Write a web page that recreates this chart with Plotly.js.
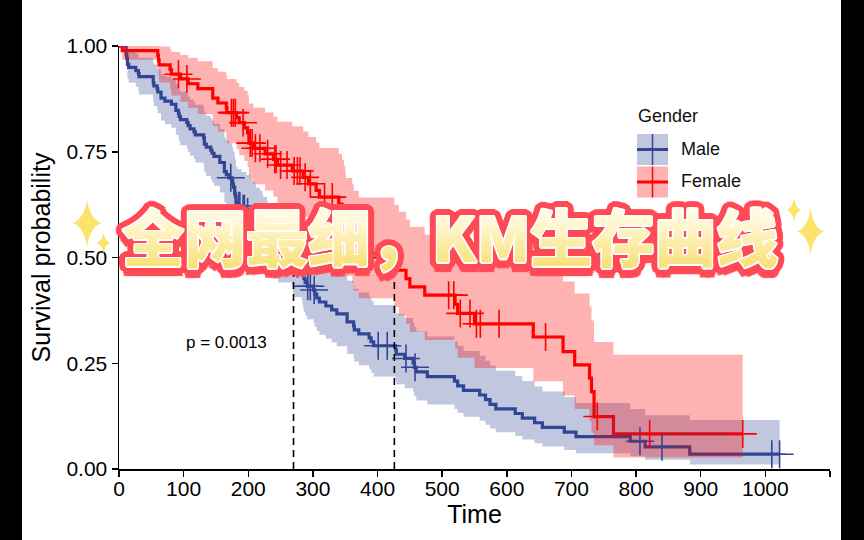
<!DOCTYPE html>
<html>
<head>
<meta charset="utf-8">
<script src="https://cdn.plot.ly/plotly-3.0.1.min.js"></script>
<style>
  html, body { margin: 0; padding: 0; background: #000; width: 864px; height: 540px; overflow: hidden; }
  #chart { position: absolute; left: 22px; top: 0; width: 819px; height: 540px; background: #fff; }
</style>
</head>
<body>
<div id="chart"></div>
<script>
// ---------------- DATA (Kaplan-Meier estimates) ----------------
const groups = ["Male", "Female"];
const legendTitle = "Gender";
const pValueText = "p = 0.0013";
const bannerText = "全网最细，KM生存曲线";

const maleTime = [0, 11, 12, 13, 15, 26, 30, 31, 53, 54, 59, 60, 65, 71, 81, 88, 92, 93, 95, 105, 107, 110, 116, 118, 131, 132, 135, 142, 144, 147, 156, 163, 166, 170, 175, 176, 177, 179, 180, 181, 183, 189, 197, 202, 207, 210, 212, 218, 222, 223, 229, 230, 239, 246, 267, 268, 269, 270, 283, 284, 285, 286, 288, 291, 301, 303, 306, 310, 320, 329, 337, 353, 363, 364, 371, 387, 390, 394, 428, 429, 442, 455, 457, 460, 477, 519, 524, 533, 558, 567, 574, 583, 613, 624, 643, 655, 689, 707, 791, 814, 883, 1022];
const maleSurv = [1, 0.9783, 0.9710, 0.9565, 0.9493, 0.9420, 0.9348, 0.9275, 0.9130, 0.9058, 0.8986, 0.8913, 0.8768, 0.8696, 0.8623, 0.8478, 0.8406, 0.8333, 0.8261, 0.8188, 0.8116, 0.8043, 0.7971, 0.7899, 0.7826, 0.7681, 0.7609, 0.7536, 0.7464, 0.7391, 0.7246, 0.7029, 0.6957, 0.6884, 0.6811, 0.6738, 0.6664, 0.6518, 0.6445, 0.6298, 0.6225, 0.6150, 0.6073, 0.5995, 0.5917, 0.5839, 0.5762, 0.5684, 0.5605, 0.5525, 0.5442, 0.5360, 0.5276, 0.5192, 0.5107, 0.5022, 0.4937, 0.4850, 0.4762, 0.4674, 0.4586, 0.4498, 0.4410, 0.4322, 0.4230, 0.4136, 0.4042, 0.3948, 0.3854, 0.3760, 0.3666, 0.3478, 0.3384, 0.3290, 0.3196, 0.3102, 0.3008, 0.2914, 0.2814, 0.2713, 0.2613, 0.2508, 0.2404, 0.2295, 0.2185, 0.2076, 0.1967, 0.1858, 0.1749, 0.1640, 0.1530, 0.1421, 0.1312, 0.1202, 0.1093, 0.0984, 0.0874, 0.0765, 0.0656, 0.0525, 0.0350, 0.0350];
const maleLower = [1, 0.9542, 0.9434, 0.9231, 0.9134, 0.9038, 0.8945, 0.8853, 0.8672, 0.8583, 0.8496, 0.8409, 0.8237, 0.8152, 0.8067, 0.7900, 0.7817, 0.7734, 0.7652, 0.7570, 0.7489, 0.7408, 0.7328, 0.7247, 0.7167, 0.7008, 0.6929, 0.6851, 0.6772, 0.6694, 0.6538, 0.6306, 0.6230, 0.6153, 0.6076, 0.5999, 0.5922, 0.5769, 0.5693, 0.5541, 0.5466, 0.5388, 0.5309, 0.5228, 0.5148, 0.5068, 0.4988, 0.4909, 0.4829, 0.4747, 0.4663, 0.4579, 0.4494, 0.4409, 0.4323, 0.4238, 0.4152, 0.4065, 0.3976, 0.3888, 0.3800, 0.3713, 0.3626, 0.3539, 0.3448, 0.3355, 0.3263, 0.3171, 0.3080, 0.2989, 0.2899, 0.2719, 0.2630, 0.2541, 0.2453, 0.2364, 0.2276, 0.2189, 0.2095, 0.2003, 0.1911, 0.1816, 0.1720, 0.1622, 0.1524, 0.1427, 0.1331, 0.1237, 0.1142, 0.1049, 0.0959, 0.0870, 0.0781, 0.0695, 0.0611, 0.0529, 0.0450, 0.0375, 0.0302, 0.0216, 0.0106, 0.0106];
const maleUpper = [1, 1.000, 0.999, 0.991, 0.987, 0.982, 0.977, 0.972, 0.961, 0.956, 0.950, 0.945, 0.933, 0.928, 0.922, 0.910, 0.904, 0.898, 0.892, 0.886, 0.880, 0.873, 0.867, 0.861, 0.855, 0.842, 0.835, 0.829, 0.823, 0.816, 0.803, 0.783, 0.777, 0.770, 0.763, 0.757, 0.750, 0.736, 0.730, 0.716, 0.709, 0.702, 0.695, 0.687, 0.680, 0.673, 0.665, 0.658, 0.651, 0.643, 0.635, 0.627, 0.619, 0.611, 0.603, 0.595, 0.587, 0.579, 0.570, 0.562, 0.553, 0.545, 0.536, 0.528, 0.519, 0.510, 0.501, 0.491, 0.482, 0.473, 0.464, 0.445, 0.436, 0.426, 0.417, 0.407, 0.398, 0.388, 0.378, 0.367, 0.357, 0.346, 0.336, 0.325, 0.313, 0.302, 0.291, 0.279, 0.268, 0.256, 0.244, 0.232, 0.220, 0.208, 0.195, 0.183, 0.170, 0.156, 0.142, 0.127, 0.116, 0.116];
const maleCensor = [173, 185, 187, 192, 194, 199, 221, 222, 225, 228, 235, 260, 269, 276, 292, 296, 302, 401, 415, 444, 458, 806, 840, 1010, 1022];

const femaleTime = [0, 5, 60, 61, 62, 79, 81, 95, 107, 122, 145, 153, 166, 167, 182, 186, 194, 199, 201, 208, 226, 239, 245, 268, 285, 293, 305, 310, 340, 345, 348, 350, 351, 361, 363, 371, 426, 433, 444, 450, 473, 520, 524, 550, 641, 687, 705, 728, 731, 735, 765, 965];
const femaleSurv = [1, 0.9889, 0.9778, 0.9667, 0.9556, 0.9444, 0.9333, 0.9221, 0.9107, 0.8993, 0.8766, 0.8652, 0.8538, 0.8424, 0.8305, 0.8187, 0.8066, 0.7946, 0.7705, 0.7581, 0.7452, 0.7322, 0.7186, 0.7045, 0.6895, 0.6742, 0.6585, 0.6428, 0.6264, 0.6099, 0.5934, 0.5769, 0.5604, 0.5434, 0.5265, 0.5089, 0.4893, 0.4698, 0.4502, 0.4306, 0.4110, 0.3894, 0.3678, 0.3433, 0.3121, 0.2774, 0.2460, 0.2150, 0.1830, 0.1240, 0.0830, 0.0830];
const femaleLower = [1, 0.9675, 0.9478, 0.9303, 0.9139, 0.8983, 0.8832, 0.8683, 0.8535, 0.8390, 0.8107, 0.7970, 0.7834, 0.7699, 0.7559, 0.7420, 0.7280, 0.7142, 0.6869, 0.6729, 0.6584, 0.6438, 0.6287, 0.6129, 0.5962, 0.5791, 0.5618, 0.5447, 0.5267, 0.5089, 0.4913, 0.4739, 0.4566, 0.4390, 0.4215, 0.4035, 0.3832, 0.3632, 0.3435, 0.3241, 0.3050, 0.2837, 0.2628, 0.2390, 0.2076, 0.1737, 0.1419, 0.1126, 0.0856, 0.0560, 0.0270, 0.0270];
const femaleUpper = [1, 1.000, 1.000, 1.000, 0.999, 0.993, 0.986, 0.979, 0.972, 0.964, 0.948, 0.939, 0.931, 0.922, 0.913, 0.903, 0.894, 0.884, 0.864, 0.854, 0.843, 0.833, 0.821, 0.810, 0.798, 0.785, 0.772, 0.759, 0.745, 0.731, 0.717, 0.702, 0.688, 0.673, 0.658, 0.642, 0.625, 0.608, 0.590, 0.572, 0.554, 0.534, 0.515, 0.493, 0.469, 0.443, 0.415, 0.384, 0.351, 0.300, 0.270, 0.270];
const femaleCensor = [92, 105, 174, 177, 180, 192, 203, 206, 211, 218, 230, 241, 243, 250, 260, 271, 276, 280, 288, 296, 318, 330, 358, 367, 380, 390, 410, 510, 518, 528, 543, 553, 559, 588, 660, 740, 821, 965];

const medians = [270, 426];   // median survival (Male, Female)
const medianLevel = 0.5;

const xTicks = [0, 100, 200, 300, 400, 500, 600, 700, 800, 900, 1000, 1100];
const yTicks = [0, 0.25, 0.5, 0.75, 1];
const yTickText = ["0.00", "0.25", "0.50", "0.75", "1.00"];

// ---------------- STYLE ----------------
const blue = "rgb(50,70,150)";
const blueBand = "rgba(50,70,150,0.3)";
const red = "rgb(255,0,0)";
const redBand = "rgba(255,0,0,0.3)";
const FONT = "Liberation Sans, Arial, Helvetica, sans-serif";

// pixel helpers (div is 819 wide, plot area left=97, width=711, top=46, height=423)
const M = {l: 97, r: 11, t: 46, b: 71};
const W = 819 - M.l - M.r, H = 540 - M.t - M.b;
const OFF = 22; // div offset in page
const px = x => (x - OFF - M.l) / W;
const py = y => (540 - M.b - y) / H;

function survAt(times, surv, t) {
  let v = surv[0];
  for (let i = 0; i < times.length; i++) if (times[i] <= t) v = surv[i];
  return v;
}

const stepLine = (x, y, color) => ({
  x, y, type: "scatter", mode: "lines", line: {color, width: 3.2, shape: "hv"},
  hoverinfo: "skip", showlegend: false
});
const bandPair = (x, lo, hi, fill) => ([
  {x, y: hi, type: "scatter", mode: "lines", line: {width: 0, shape: "hv"}, hoverinfo: "skip", showlegend: false},
  {x, y: lo, type: "scatter", mode: "lines", line: {width: 0, shape: "hv"}, fill: "tonexty", fillcolor: fill, hoverinfo: "skip", showlegend: false}
]);
const censorTrace = (ct, times, surv, color) => ({
  x: ct, y: ct.map(t => survAt(times, surv, t)), type: "scatter", mode: "markers",
  marker: {symbol: "cross-thin", size: 20, line: {color, width: 1.6}, color},
  hoverinfo: "skip", showlegend: false, cliponaxis: false
});

const medX = [0, Math.max(...medians)], medY = [medianLevel, medianLevel];
medians.forEach(m => { medX.push(null, m, m); medY.push(null, 0, medianLevel); });

const data = [
  stepLine(maleTime, maleSurv, blue),
  stepLine(femaleTime, femaleSurv, red),
  ...bandPair(maleTime, maleLower, maleUpper, blueBand),
  ...bandPair(femaleTime, femaleLower, femaleUpper, redBand),
  censorTrace(maleCensor, maleTime, maleSurv, blue),
  censorTrace(femaleCensor, femaleTime, femaleSurv, red),
  {x: medX, y: medY, type: "scatter", mode: "lines", line: {color: "#000", width: 1.6, dash: "7px,5px"}, hoverinfo: "skip", showlegend: false, connectgaps: false}
];

// sparkle star path (pixel units around anchor)
function sparkle(cx, cy, hw, hh, color) {
  const c = 0.18;
  const path = `M0,${hh} Q${c*hw},${c*hh} ${hw},0 Q${c*hw},${-c*hh} 0,${-hh} Q${-c*hw},${-c*hh} ${-hw},0 Q${-c*hw},${c*hh} 0,${hh} Z`;
  return {type: "path", xref: "paper", yref: "paper", xsizemode: "pixel", ysizemode: "pixel",
          xanchor: px(cx), yanchor: py(cy), path, fillcolor: color, line: {width: 0}, layer: "above"};
}
const spark = "#FCE36C";

// legend (drawn with shapes + annotations)
const legendColors = [[blue, blueBand], [red, redBand]];
const legShapes = [];
const legAnn = [];
groups.forEach((g, i) => {
  const y0 = 134 + i * 32.5, y1 = y0 + 31, x0 = 637, x1 = 668;
  const [lc, bc] = legendColors[i];
  legShapes.push({type: "rect", xref: "paper", yref: "paper", x0: px(x0), x1: px(x1), y0: py(y1), y1: py(y0), fillcolor: bc, line: {width: 0}, layer: "above"});
  legShapes.push({type: "line", xref: "paper", yref: "paper", x0: px(x0), x1: px(x1), y0: py((y0+y1)/2), y1: py((y0+y1)/2), line: {color: lc, width: 3}, layer: "above"});
  legShapes.push({type: "line", xref: "paper", yref: "paper", x0: px((x0+x1)/2), x1: px((x0+x1)/2), y0: py(y1), y1: py(y0), line: {color: lc, width: 1.5}, layer: "above"});
  legAnn.push({xref: "paper", yref: "paper", x: px(679), y: py((y0+y1)/2 - 1), xanchor: "left", yanchor: "middle", showarrow: false, text: g, font: {family: FONT, size: 18, color: "#111"}});
});
legAnn.push({xref: "paper", yref: "paper", x: px(636), y: py(116), xanchor: "left", yanchor: "middle", showarrow: false, text: legendTitle, font: {family: FONT, size: 18, color: "#111"}});

// banner outline via text-shadow rings
function ring(r, n, color) {
  const out = [];
  for (let k = 0; k < n; k++) {
    const a = 2 * Math.PI * k / n;
    out.push(`${(r*Math.cos(a)).toFixed(1)}px ${(r*Math.sin(a)).toFixed(1)}px 0px ${color}`);
  }
  return out;
}
const outlineRed = "#FF4A55";
const bannerShadow = [
  ...ring(1.6, 10, "#FFFFFF"),
  ...ring(3.5, 14, outlineRed),
  ...ring(5.5, 18, outlineRed),
  ...ring(7.5, 24, outlineRed),
  `0px 9px 1px ${outlineRed}`, `3px 10px 1px ${outlineRed}`, `-3px 10px 1px ${outlineRed}`
].join(", ");

const layout = {
  width: 819, height: 540,
  margin: M,
  paper_bgcolor: "#fff", plot_bgcolor: "#fff",
  showlegend: false,
  font: {family: FONT, color: "#000"},
  xaxis: {
    range: [0, 1100], tickvals: xTicks, ticktext: xTicks.map(String),
    showgrid: false, zeroline: false, showline: true, linecolor: "#000", linewidth: 1.5,
    ticks: "outside", ticklen: 6, tickwidth: 1.5, tickcolor: "#000", ticklabelstandoff: -6,
    tickfont: {family: FONT, size: 21, color: "#000"},
    title: {text: "Time", font: {family: FONT, size: 25, color: "#000"}, standoff: 4}
  },
  yaxis: {
    range: [0, 1], tickvals: yTicks, ticktext: yTickText,
    showgrid: false, zeroline: false, showline: true, linecolor: "#000", linewidth: 1.5,
    ticks: "outside", ticklen: 6, tickwidth: 1.5, tickcolor: "#000",
    tickfont: {family: FONT, size: 21, color: "#000"},
    title: {text: "Survival probability", font: {family: FONT, size: 25, color: "#000"}, standoff: 8}
  },
  shapes: [
    ...legShapes,
    sparkle(87, 223, 14.5, 24, spark),
    sparkle(103.5, 243, 7, 10.5, spark),
    sparkle(794, 210, 7, 12, spark),
    sparkle(810.5, 231.5, 13.5, 23.5, spark)
  ],
  annotations: [
    ...legAnn,
    {xref: "x", yref: "y", x: 100, y: 0.298, xanchor: "left", yanchor: "middle", showarrow: false,
     text: pValueText, font: {family: FONT, size: 17, color: "#000"}},
    {xref: "paper", yref: "paper", x: px(450), y: py(235), xanchor: "center", yanchor: "middle", showarrow: false,
     text: bannerText,
     font: {family: "Noto Sans CJK SC, sans-serif", size: 62, weight: 900, color: "#FCEFA6", shadow: bannerShadow}}
  ]
};

Plotly.newPlot("chart", data, layout, {staticPlot: true, displayModeBar: false}).then(gd => {
  // vertical gradient fill for the banner text
  const svg = gd.querySelector("svg.main-svg");
  const NS = "http://www.w3.org/2000/svg";
  let defs = svg.querySelector("defs");
  if (!defs) { defs = document.createElementNS(NS, "defs"); svg.insertBefore(defs, svg.firstChild); }
  const grad = document.createElementNS(NS, "linearGradient");
  grad.setAttribute("id", "bannerGrad");
  grad.setAttribute("x1", "0"); grad.setAttribute("y1", "0");
  grad.setAttribute("x2", "0"); grad.setAttribute("y2", "1");
  [["0%", "#FFFFFF"], ["35%", "#FFF8D6"], ["100%", "#F7D95A"]].forEach(([o, c]) => {
    const s = document.createElementNS(NS, "stop");
    s.setAttribute("offset", o); s.setAttribute("stop-color", c);
    grad.appendChild(s);
  });
  defs.appendChild(grad);
  gd.querySelectorAll(".annotation-text").forEach(t => {
    if (t.textContent.indexOf("KM") >= 0) t.style.fill = "url(#bannerGrad)";
  });
});
</script>
</body>
</html>
